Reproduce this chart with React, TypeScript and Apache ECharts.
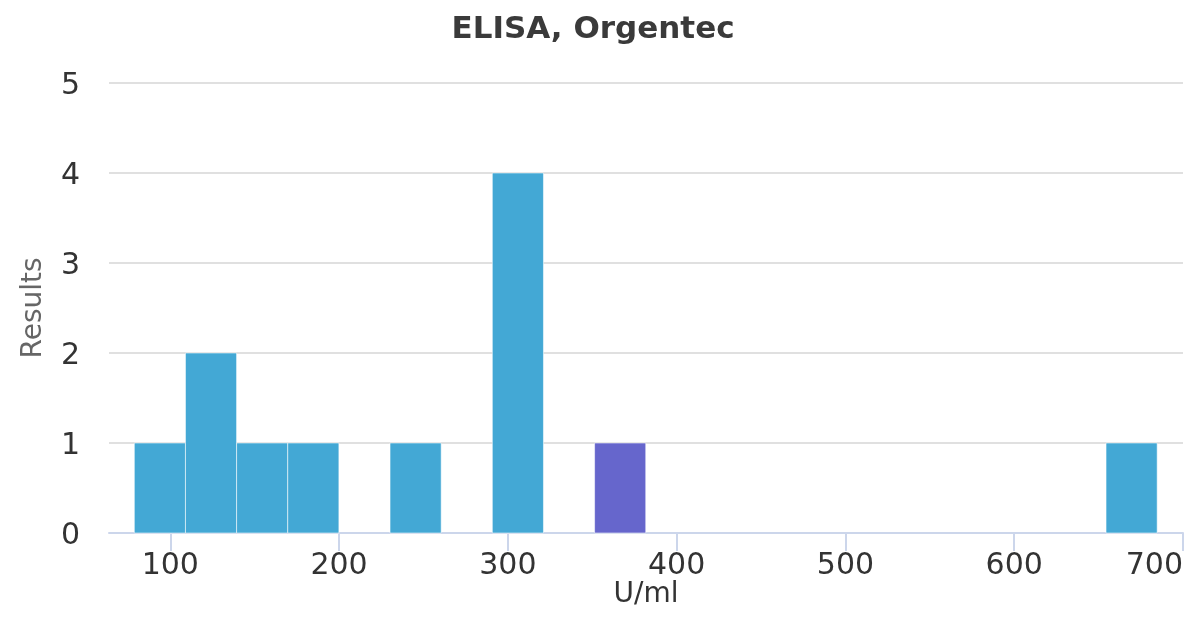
import React, { useEffect, useRef } from "react";
import * as echarts from "echarts";

const titleText = "ELISA, Orgentec";
const xAxisName = "U/ml";
const yAxisName = "Results";
const xTicks = [100, 200, 300, 400, 500, 600, 700];
const yTicks = [0, 1, 2, 3, 4, 5];
const binStarts = [78.7, 109.0, 139.3, 169.6, 230.2, 290.8, 351.4, 654.4];
const binEnds = [109.0, 139.3, 169.6, 199.9, 260.5, 321.1, 381.7, 684.7];
const counts = [1, 2, 1, 1, 1, 4, 1, 1];
const highlighted = [false, false, false, false, false, false, true, false];

const BLUE = "#43a8d5";
const PURPLE = "#6666cc";

export default function App() {
  const ref = useRef<HTMLDivElement>(null);
  useEffect(() => {
    if (!ref.current) return;
    const chart = echarts.init(ref.current, undefined, { renderer: "svg" });
    const data = binStarts.map((s, i) => ({
      value: [s, binEnds[i], counts[i]],
      itemStyle: { color: highlighted[i] ? PURPLE : BLUE },
    }));
    chart.setOption({
      animation: false,
      title: {
        text: titleText,
        left: "center",
        top: 6,
        textStyle: {
          fontFamily: "DejaVu Sans",
          fontSize: 31,
          fontWeight: "bold",
          color: "#3a3a3a",
        },
      },
      grid: { left: 109, right: 3, top: 83, bottom: 89, containLabel: false },
      xAxis: {
        type: "value",
        min: 63.7,
        max: 700,
        name: xAxisName,
        nameLocation: "middle",
        nameGap: 46,
        nameMoveOverlap: false,
        nameTextStyle: { fontFamily: "DejaVu Sans", fontSize: 28, lineHeight: 26, color: "#333333" },
        axisLine: { show: true, lineStyle: { color: "#ccd6eb", width: 2 } },
        axisTick: {
          show: true,
          length: 18,
          customValues: xTicks,
          lineStyle: { color: "#ccd6eb", width: 2 },
        },
        axisLabel: {
          customValues: xTicks,
          margin: 17,
          fontFamily: "DejaVu Sans",
          fontSize: 30,
          lineHeight: 26,
          color: "#333333",
          alignMaxLabel: "right",
        },
        splitLine: { show: false },
      },
      yAxis: {
        type: "value",
        min: 0,
        max: 5,
        interval: 1,
        name: yAxisName,
        nameLocation: "middle",
        nameGap: 64,
        nameMoveOverlap: false,
        nameTextStyle: { fontFamily: "DejaVu Sans", fontSize: 28, color: "#666666" },
        axisLine: { show: false },
        axisTick: { show: false },
        axisLabel: {
          margin: 29,
          fontFamily: "DejaVu Sans",
          fontSize: 30,
          color: "#333333",
          customValues: yTicks,
        },
        splitLine: { show: true, lineStyle: { color: "#e0e0e0", width: 2 } },
      },
      series: [
        {
          type: "custom",
          renderItem: (params: any, api: any) => {
            const x0 = api.value(0);
            const x1 = api.value(1);
            const c = api.value(2);
            const p0 = api.coord([x0, c]);
            const p1 = api.coord([x1, 0]);
            return {
              type: "rect",
              shape: { x: p0[0], y: p0[1], width: p1[0] - p0[0], height: p1[1] - p0[1] },
              style: {
                fill: api.visual("color"),
                stroke: "rgba(255,255,255,0.55)",
                lineWidth: 1,
              },
            };
          },
          encode: { x: [0, 1], y: 2 },
          data,
        },
      ],
    });
    return () => chart.dispose();
  }, []);
  return (
    <div
      ref={ref}
      style={{ position: "fixed", left: 0, top: 0, width: 1186, height: 622 }}
    />
  );
}
